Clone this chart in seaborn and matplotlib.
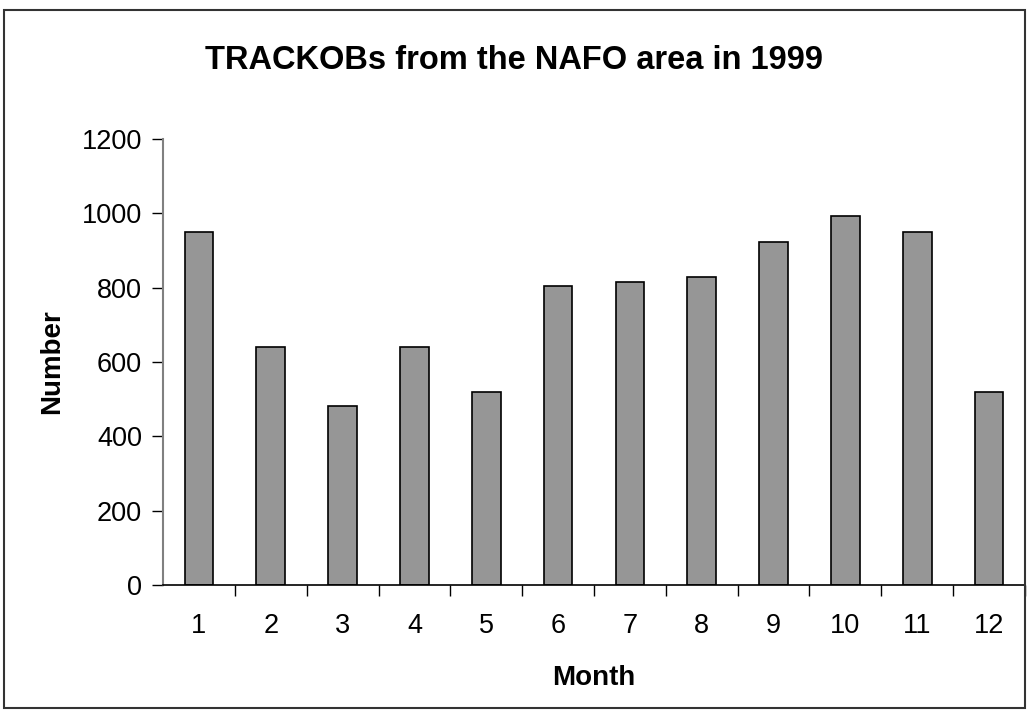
import pandas as pd
import matplotlib.pyplot as plt
import seaborn as sns
from matplotlib.patches import Rectangle

# Data
months = ['1', '2', '3', '4', '5', '6', '7', '8', '9', '10', '11', '12']
counts = [950, 640, 482, 640, 520, 805, 816, 829, 922, 993, 950, 520]

df = pd.DataFrame({'Month': months, 'Number': counts})

sns.set_style("white")
plt.rcParams['font.family'] = ['Liberation Sans', 'DejaVu Sans']
plt.rcParams['text.color'] = 'black'
plt.rcParams['axes.labelcolor'] = 'black'
plt.rcParams['xtick.color'] = 'black'
plt.rcParams['ytick.color'] = 'black'

fig = plt.figure(figsize=(10.28, 7.11), dpi=100)
ax = fig.add_axes([0.1586, 0.177, 0.8384, 0.6275])

sns.barplot(x='Month', y='Number', data=df, color='#969696', edgecolor='black',
            linewidth=1.2, width=0.4, saturation=1, ax=ax)

ax.set_ylim(0, 1200)
ax.set_xlim(-0.5, 11.5)
ax.set_yticks(range(0, 1201, 200))

# Frame around the whole figure
fig.patches.append(Rectangle((0.004, 0.004), 0.993, 0.982, transform=fig.transFigure,
                             fill=False, edgecolor='#333333', linewidth=1.5))

fig.text(0.5, 0.903, "TRACKOBs from the NAFO area in 1999", fontsize=23.5,
         fontweight='bold', ha='center', va='baseline')
ax.set_xlabel("Month", fontsize=20, fontweight='bold', labelpad=19)
ax.set_ylabel("Number", fontsize=20, fontweight='bold', labelpad=12)

for side in ['top', 'right']:
    ax.spines[side].set_visible(False)
ax.spines['left'].set_color('#808080')
ax.spines['left'].set_linewidth(1.5)
ax.spines['bottom'].set_color('black')
ax.spines['bottom'].set_linewidth(1.2)

ax.tick_params(axis='y', which='major', direction='out', length=8, width=1,
               labelsize=19.5, pad=7, left=True)
ax.tick_params(axis='x', which='major', length=0, labelsize=19.5, pad=20)
ax.set_xticks([i - 0.5 for i in range(1, 13)], minor=True)
ax.tick_params(axis='x', which='minor', direction='out', length=8, width=1, bottom=True)

plt.savefig("out.png", dpi=100)
